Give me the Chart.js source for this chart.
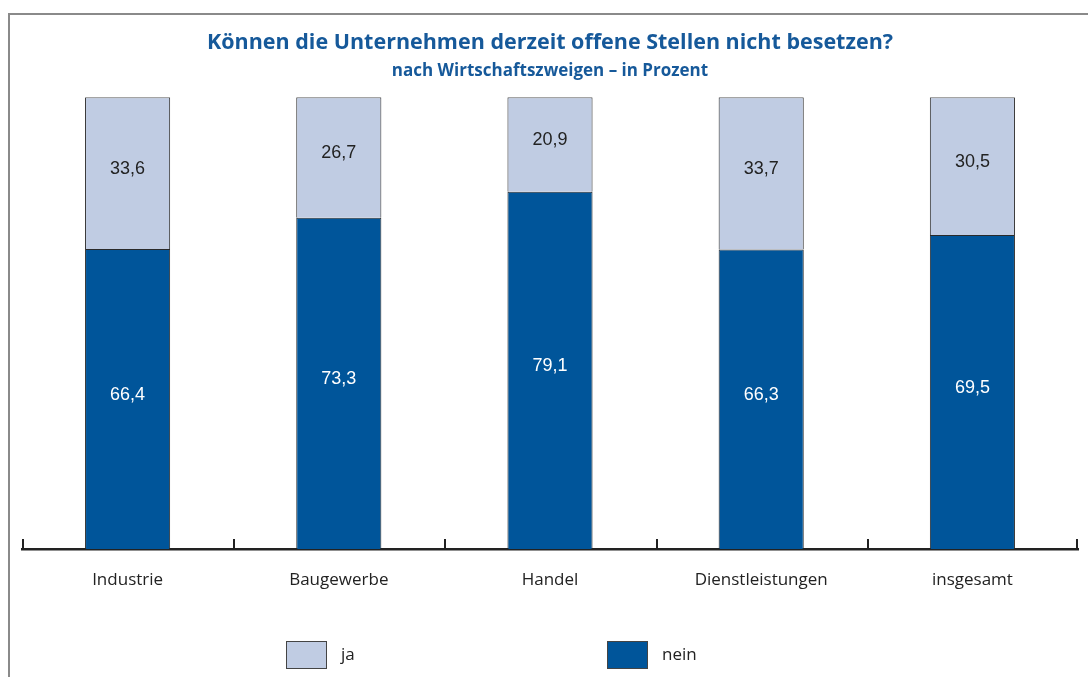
<!DOCTYPE html>
<html lang="de">
<head>
<meta charset="utf-8">
<title>Können die Unternehmen derzeit offene Stellen nicht besetzen?</title>
<script src="https://cdn.jsdelivr.net/npm/chart.js@4.4.0/dist/chart.umd.min.js"></script>
<style>
    html, body { margin: 0; padding: 0; background: #fff; overflow: hidden; }
    #wrap { position: relative; width: 1088px; height: 677px; }
    #frame {
        position: absolute; left: 8px; top: 13px; width: 1200px; height: 800px;
        border: 2px solid #8a8a8a; box-sizing: border-box;
    }
    #chart { position: absolute; left: 0; top: 0; }
</style>
</head>
<body>
<div id="wrap">
    <div id="frame"></div>
    <canvas id="chart" width="1088" height="677"></canvas>
</div>
<script>
// ===============================
// DATA
// ===============================
const categories = ["Industrie", "Baugewerbe", "Handel", "Dienstleistungen", "insgesamt"];
const jaValues = [33.6, 26.7, 20.9, 33.7, 30.5];
const neinValues = [66.4, 73.3, 79.1, 66.3, 69.5];
const seriesNames = ["ja", "nein"];

const lightBlue = "#c0cce3";
const darkBlue = "#00559a";

// ===============================
// PLUGINS
// ===============================

// value labels inside each segment
const valueLabels = {
    id: "valueLabels",
    afterDatasetsDraw(chart) {
        const ctx = chart.ctx;
        ctx.save();
        ctx.font = "18px 'Liberation Sans', Arial, sans-serif";
        ctx.textAlign = "center";
        ctx.textBaseline = "middle";
        chart.data.datasets.forEach((ds, i) => {
            const meta = chart.getDatasetMeta(i);
            meta.data.forEach((bar, j) => {
                const mid = (bar.y + bar.base) / 2 - 4;
                ctx.fillStyle = ds.labelColor;
                ctx.fillText(ds.data[j].toFixed(1).replace(".", ","), bar.x, mid);
            });
        });
        ctx.restore();
    }
};

// small upward ticks between categories on the axis
const axisTicks = {
    id: "axisTicks",
    afterDraw(chart) {
        const ctx = chart.ctx;
        const area = chart.chartArea;
        const step = (area.right - area.left) / categories.length;
        ctx.save();
        ctx.strokeStyle = "#222";
        ctx.lineWidth = 2;
        for (let i = 0; i <= categories.length; i++) {
            const x = Math.round(area.left + i * step) + (i === categories.length ? -1 : 1);
            ctx.beginPath();
            ctx.moveTo(x, area.bottom + 1);
            ctx.lineTo(x, area.bottom - 10);
            ctx.stroke();
        }
        ctx.restore();
    }
};

// legend row at the bottom (ja first, then nein)
const bottomLegend = {
    id: "bottomLegend",
    afterDraw(chart) {
        const ctx = chart.ctx;
        const starts = [286, 607];
        ctx.save();
        ctx.font = "17px 'Open Sans', sans-serif";
        ctx.textBaseline = "middle";
        seriesNames.forEach((name, i) => {
            const ds = chart.data.datasets.find(d => d.label === name);
            const x = starts[i];
            ctx.fillStyle = ds.backgroundColor;
            ctx.fillRect(x, 641, 40, 27);
            ctx.strokeStyle = "#444";
            ctx.lineWidth = 1;
            ctx.strokeRect(x + 0.5, 641.5, 40, 27);
            ctx.fillStyle = "#222";
            ctx.fillText(name, x + 55, 655);
        });
        ctx.restore();
    }
};

// ===============================
// CHART
// ===============================
const ctx = document.getElementById("chart").getContext("2d");

new Chart(ctx, {
    type: "bar",
    data: {
        labels: categories,
        datasets: [
            {
                label: seriesNames[1],
                data: neinValues,
                backgroundColor: darkBlue,
                borderColor: "#2a2a2a",
                borderWidth: 1,
                labelColor: "#ffffff"
            },
            {
                label: seriesNames[0],
                data: jaValues,
                backgroundColor: lightBlue,
                borderColor: "#2a2a2a",
                borderWidth: 1,
                labelColor: "#222222"
            }
        ]
    },
    options: {
        responsive: false,
        animation: false,
        layout: { padding: { left: 22, right: 10, top: 0, bottom: 0 } },
        datasets: {
            bar: { categoryPercentage: 1, barPercentage: 0.403 }
        },
        scales: {
            x: {
                stacked: true,
                grid: { display: false, drawTicks: false },
                border: { display: true, color: "#222", width: 2.5 },
                ticks: {
                    color: "#222",
                    padding: 21,
                    font: { family: "'Open Sans', sans-serif", size: 17 }
                },
                afterFit(scale) { scale.height = 128; }
            },
            y: {
                stacked: true,
                display: false,
                min: 0,
                max: 100
            }
        },
        plugins: {
            legend: { display: false },
            tooltip: { enabled: false },
            title: {
                display: true,
                text: "Können die Unternehmen derzeit offene Stellen nicht besetzen?",
                color: "#16599a",
                font: { family: "'Open Sans', sans-serif", size: 21.5, weight: "bold" },
                padding: { top: 30, bottom: 5 }
            },
            subtitle: {
                display: true,
                text: "nach Wirtschaftszweigen – in Prozent",
                color: "#16599a",
                font: { family: "'Open Sans', sans-serif", size: 17, weight: "bold" },
                padding: { top: 0, bottom: 16 }
            }
        }
    },
    plugins: [valueLabels, axisTicks, bottomLegend]
});
</script>
</body>
</html>
